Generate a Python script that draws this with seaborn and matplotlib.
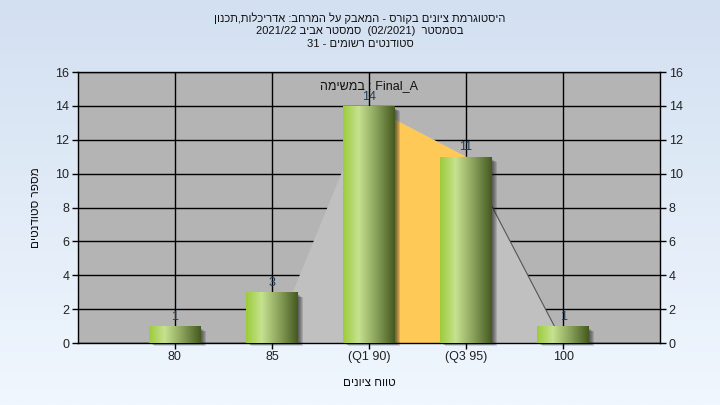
import re
import numpy as np
import pandas as pd
import matplotlib
matplotlib.use("Agg")
import matplotlib.pyplot as plt
import seaborn as sns
from matplotlib.colors import LinearSegmentedColormap
from matplotlib.patches import Rectangle, Polygon

# data
grades = ["80", "85", "(Q1 90)", "(Q3 95)", "100"]
counts = [1, 3, 14, 11, 1]

# light gray distribution shape and the orange Q1-Q3 band
shape_x = ["85", "(Q1 90)", "(Q3 95)", "100"]
shape_y = [0, 14, 11, 0]
iqr_x = ["(Q1 90)", "(Q3 95)"]
iqr_y = [14, 11]

yticks = [0, 2, 4, 6, 8, 10, 12, 14, 16]

title_lines = [
    "היסטוגרמת ציונים בקורס - המאבק על המרחב: אדריכלות,תכנון",
    "בסמסטר  (02/2021)  סמסטר אביב 2021/22",
    "סטודנטים רשומים - 31",
]
xlabel = "טווח ציונים"
ylabel = "מספר סטודנטים"
task_word = "במשימה"
task_name = "Final_A"


def rtl(s):
    # matplotlib has no bidi: put hebrew into visual order, keep latin/number runs
    r = s[::-1]
    r = re.sub(r"[A-Za-z0-9_/.]+", lambda m: m.group(0)[::-1], r)
    return r.translate(str.maketrans("()", ")("))


sns.set_style("white")
plt.rcParams["font.family"] = ["Liberation Sans", "DejaVu Sans"]

fig = plt.figure(figsize=(7.2, 4.05), dpi=100)

# background gradient
bg = fig.add_axes([0, 0, 1, 1], zorder=-10)
grad = np.linspace(0, 1, 256).reshape(-1, 1)
bg_cmap = LinearSegmentedColormap.from_list("bg", ["#d3e0f1", "#f0f7fe"])
bg.imshow(grad, aspect="auto", cmap=bg_cmap, extent=[0, 1, 0, 1])
bg.axis("off")

ax = fig.add_axes([0.108, 0.153, 0.809, 0.669])
ax.set_facecolor("#b4b4b4")

df = pd.DataFrame({"grade": grades, "count": counts})
sns.barplot(data=df, x="grade", y="count", order=grades, width=0.53,
            color="#9ccb3b", saturation=1, linewidth=0, edgecolor="none",
            ax=ax, zorder=3)

pos = {g: i for i, g in enumerate(grades)}

# distribution shape
sx = [pos[g] for g in shape_x]
ax.add_patch(Polygon(list(zip(sx, shape_y)), closed=True, facecolor="#c0c0c0",
                     edgecolor="none", zorder=1.5))
ix = [pos[g] for g in iqr_x]
ax.add_patch(Polygon([(ix[0], 0), (ix[0], iqr_y[0]), (ix[1], iqr_y[1]), (ix[1], 0)],
                     closed=True, facecolor="#ffc957", edgecolor="none", zorder=1.6))
ax.plot(sx[-2:], shape_y[-2:], color="#555555", lw=0.8, zorder=1.7)

# gradient fill + soft shadow on each bar
bar_cmap = LinearSegmentedColormap.from_list(
    "bar", [(0, "#9ccb3b"), (0.3, "#c6e290"), (0.65, "#88a05a"), (1.0, "#45591f")])
hgrad = np.linspace(0, 1, 256).reshape(1, -1)
px_x, px_y = 1 / 97, 16 / 271
for p in list(ax.patches):
    if not isinstance(p, Rectangle) or p.get_height() <= 0:
        continue
    x0, w, h = p.get_x(), p.get_width(), p.get_height()
    for k in range(1, 6):
        ax.add_patch(Rectangle((x0 + k * px_x, -k * 0.6 * px_y), w, h - 2 * px_y,
                               facecolor="#202020", alpha=0.16, edgecolor="none",
                               zorder=2.5, clip_on=False))
    im = ax.imshow(hgrad, aspect="auto", cmap=bar_cmap,
                   extent=[x0, x0 + w, 0, h], zorder=3.5)
    im.set_clip_path(p)
    ax.text(x0 + w / 2, h + 0.2, str(int(h)), ha="center", va="bottom",
            fontsize=9, color="#1f3d5c", zorder=5)

ax.text(pos["(Q1 90)"], 15.2, rtl(task_word) + " : " + task_name, ha="center",
        va="center", fontsize=9, color="#111111", zorder=5)

ax.set_xlim(-1, len(grades))
ax.set_ylim(0, 16)
ax.set_yticks(yticks)
ax.set_xticks(range(len(grades)))
ax.set_xticklabels(grades)
ax.grid(True, color="black", lw=1)
ax.set_axisbelow(True)
for s in ax.spines.values():
    s.set_color("black")
    s.set_linewidth(1)
ax.tick_params(axis="both", direction="out", length=4, width=1, color="black",
               labelsize=9, labelcolor="#222222", pad=2)
ax.tick_params(axis="y", right=True, labelright=True, left=True)
ax.tick_params(axis="x", bottom=True)
ax.set_xlabel(rtl(xlabel), fontsize=8.5, labelpad=10, color="#111111")
ax.set_ylabel(rtl(ylabel), fontsize=8.5, labelpad=10, color="#111111")

for line, y in zip(title_lines, [18, 31, 44]):
    fig.text(0.5, 1 - y / 405, rtl(line), ha="center", va="center",
             fontsize=8, color="#111111")

fig.savefig("out.png", dpi=100)
